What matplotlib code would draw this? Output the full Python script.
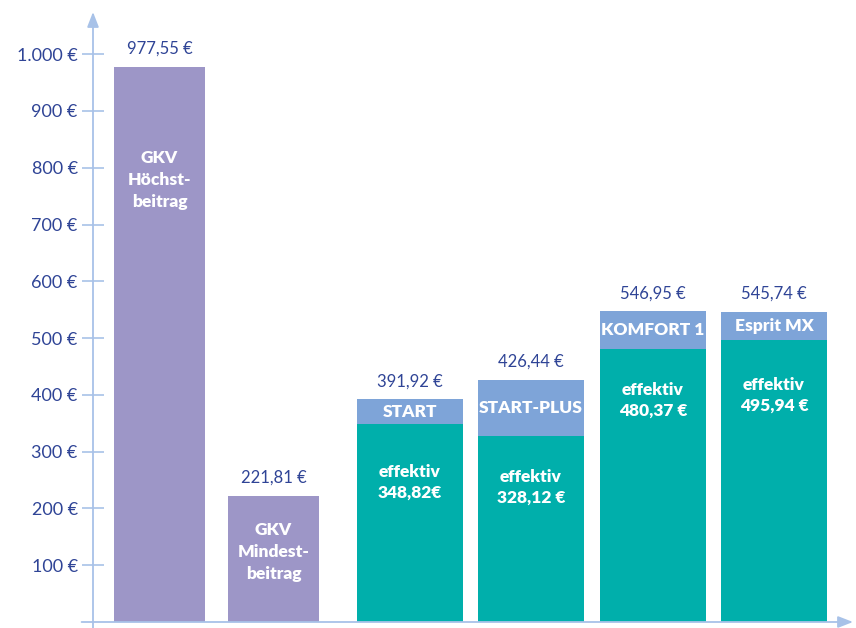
import matplotlib
matplotlib.use("Agg")
import matplotlib.pyplot as plt

# data
categories = ["GKV\nHöchst-\nbeitrag", "GKV\nMindest-\nbeitrag", "START", "START-PLUS", "KOMFORT 1", "Esprit MX"]
totals = [977.55, 221.81, 391.92, 426.44, 546.95, 545.74]
effective = [None, None, 348.82, 328.12, 480.37, 495.94]
total_labels = ["977,55 €", "221,81 €", "391,92 €", "426,44 €", "546,95 €", "545,74 €"]
effective_labels = [None, None, "effektiv\n348,82€", "effektiv\n328,12 €", "effektiv\n480,37 €", "effektiv\n495,94 €"]
yticks = [100, 200, 300, 400, 500, 600, 700, 800, 900, 1000]
ytick_labels = ["100 €", "200 €", "300 €", "400 €", "500 €", "600 €", "700 €", "800 €", "900 €", "1.000 €"]

# layout (pixel-ish units along x, measured from the y axis)
x_pos = [66.5, 180.5, 317, 438, 560, 681]
widths = [91, 91, 106, 106, 106, 106]
gkv_label_y = [778, 123]
eff_label_y = [246, 237, 390, 399]

PURPLE = "#9d96c7"
BLUE = "#7ea4d8"
TEAL = "#00afab"
AXIS = "#a8c2e8"
TXT = "#2f4496"

plt.rcParams["font.family"] = ["Lato", "DejaVu Sans"]

W, H = 856, 628
fig = plt.figure(figsize=(W / 100, H / 100), dpi=100)
x0, y0, ytop = 93, 622, 12
ax = fig.add_axes([x0 / W, (H - y0) / H, (W - 3 - x0) / W, (y0 - ytop) / H])
ax.set_xlim(0, W - 3 - x0)
ax.set_ylim(0, (y0 - ytop) / 0.5678)
ax.patch.set_alpha(0)

inner = dict(ha="center", va="center", color="white", fontsize=12.5, fontweight="heavy")

for i in range(len(categories)):
    if effective[i] is None:
        ax.bar(x_pos[i], totals[i], width=widths[i], color=PURPLE, zorder=2)
        ax.text(x_pos[i], gkv_label_y[i], categories[i], linespacing=1.45, **inner)
    else:
        ax.bar(x_pos[i], effective[i], width=widths[i], color=TEAL, zorder=2)
        ax.bar(x_pos[i], totals[i] - effective[i], bottom=effective[i], width=widths[i],
               color=BLUE, zorder=2)
        ax.text(x_pos[i], (totals[i] + effective[i]) / 2, categories[i], **inner)
        ax.text(x_pos[i], eff_label_y[i - 2], effective_labels[i], linespacing=1.4, **inner)
    ax.text(x_pos[i], totals[i] + 18, total_labels[i], ha="center", va="bottom",
            color=TXT, fontsize=12)

# axes
for s in ax.spines.values():
    s.set_visible(False)
ax.set_xticks([])
ax.set_yticks(yticks)
ax.set_yticklabels(ytick_labels)
ax.tick_params(axis="y", direction="inout", length=16, width=1.2, color=AXIS,
               labelcolor=TXT, labelsize=13, pad=3)

# y axis line with arrow
ax.annotate("", xy=(0, 1.0), xycoords="axes fraction", xytext=(0, -0.02),
            arrowprops=dict(arrowstyle="-|>,head_length=0.9,head_width=0.35",
                            color=AXIS, lw=1.3, shrinkA=0, shrinkB=0), annotation_clip=False)
# x axis line with arrow
ax.annotate("", xy=(1.0, 0), xycoords="axes fraction", xytext=(-0.015, 0),
            arrowprops=dict(arrowstyle="-|>,head_length=0.9,head_width=0.35",
                            color=AXIS, lw=1.3, shrinkA=0, shrinkB=0), annotation_clip=False)

fig.savefig("out.png", dpi=100)
